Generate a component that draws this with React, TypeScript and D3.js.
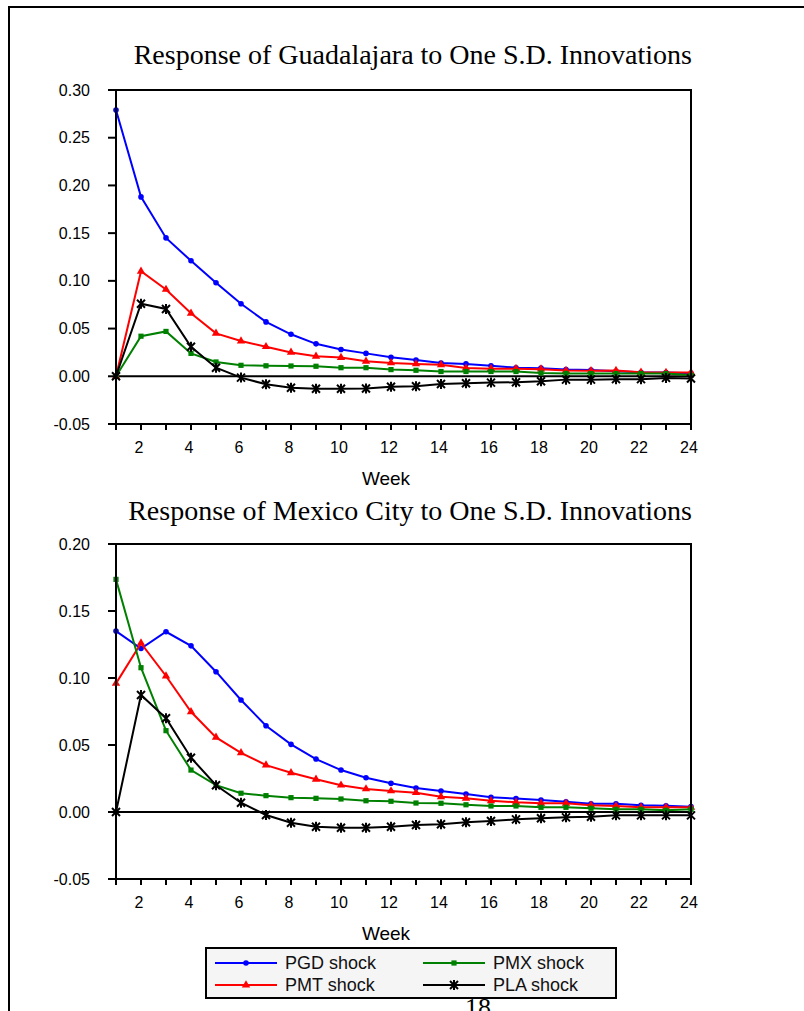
import React from "react";
import * as d3 from "d3";

// weeks after the shock
const weeks = [1, 2, 3, 4, 5, 6, 7, 8, 9, 10, 11, 12, 13, 14, 15, 16, 17, 18, 19, 20, 21, 22, 23, 24];
const weekTicks = [2, 4, 6, 8, 10, 12, 14, 16, 18, 20, 22, 24];

// Guadalajara responses
const gdlPGD = [0.279, 0.188, 0.145, 0.121, 0.098, 0.076, 0.057, 0.044, 0.034, 0.028, 0.024, 0.02, 0.017, 0.014, 0.013, 0.011, 0.009, 0.0085, 0.007, 0.0066, 0.0052, 0.0042, 0.004, 0.0031];
const gdlPMT = [0.0, 0.11, 0.091, 0.066, 0.045, 0.037, 0.031, 0.025, 0.021, 0.0196, 0.0157, 0.014, 0.013, 0.012, 0.0087, 0.008, 0.008, 0.0075, 0.006, 0.0057, 0.006, 0.0042, 0.004, 0.004];
const gdlPMX = [0.0, 0.042, 0.047, 0.024, 0.015, 0.0115, 0.011, 0.0108, 0.0105, 0.009, 0.009, 0.007, 0.0063, 0.005, 0.005, 0.005, 0.005, 0.0035, 0.003, 0.0028, 0.0028, 0.0028, 0.0028, 0.001];
const gdlPLA = [0.0, 0.076, 0.0705, 0.031, 0.009, -0.0014, -0.0084, -0.012, -0.013, -0.013, -0.0128, -0.011, -0.0105, -0.008, -0.0073, -0.0066, -0.0063, -0.0052, -0.0035, -0.0035, -0.003, -0.003, -0.0017, -0.0024];
const gdlTicks = [-0.05, 0.0, 0.05, 0.1, 0.15, 0.2, 0.25, 0.3];

// Mexico City responses
const mexPGD = [0.135, 0.122, 0.1345, 0.124, 0.1047, 0.0836, 0.0644, 0.0505, 0.0395, 0.0313, 0.0256, 0.0214, 0.0179, 0.0157, 0.0134, 0.011, 0.01, 0.009, 0.0077, 0.0062, 0.0062, 0.005, 0.0047, 0.004];
const mexPMT = [0.096, 0.126, 0.1015, 0.0748, 0.0557, 0.0442, 0.035, 0.0293, 0.0244, 0.02, 0.0172, 0.0157, 0.0144, 0.0114, 0.0102, 0.0084, 0.0072, 0.0065, 0.0065, 0.005, 0.0045, 0.0035, 0.0035, 0.0035];
const mexPMX = [0.1736, 0.1077, 0.0607, 0.0313, 0.02, 0.014, 0.0122, 0.0107, 0.0102, 0.0097, 0.0084, 0.008, 0.0067, 0.0065, 0.0054, 0.0045, 0.0045, 0.0035, 0.0035, 0.0028, 0.002, 0.002, 0.0013, 0.002];
const mexPLA = [0.0, 0.0873, 0.07, 0.0405, 0.02, 0.0069, -0.0022, -0.008, -0.011, -0.0117, -0.0117, -0.011, -0.0097, -0.0092, -0.0077, -0.0067, -0.0055, -0.0047, -0.004, -0.0035, -0.0025, -0.0025, -0.0025, -0.0025];
const mexTicks = [-0.05, 0.0, 0.05, 0.1, 0.15, 0.2];

const shockNames = ["PGD shock", "PMT shock", "PMX shock", "PLA shock"];
const colors = ["#0000ff", "#ff0000", "#008000", "#000000"];
const markers = ["circle", "triangle", "square", "star"];

const LEFT = 116;
const RIGHT = 691;
const fmt = (t: number) => d3.format(".2f")(t).replace("\u2212", "-");

function Marker({ kind, x, y, color }) {
  if (kind === "circle") return <circle cx={x} cy={y} r={2.8} fill={color} />;
  if (kind === "triangle") {
    const p = d3.symbol().type(d3.symbolTriangle).size(30)();
    return <path d={p} transform={`translate(${x},${y})`} fill={color} />;
  }
  if (kind === "square") return <rect x={x - 2.6} y={y - 2.6} width={5.2} height={5.2} fill={color} />;
  const s = 4;
  return (
    <path
      d={`M${x - s},${y - s}L${x + s},${y + s}M${x - s},${y + s}L${x + s},${y - s}M${x},${y - s - 1}L${x},${y + s + 1}`}
      stroke={color}
      strokeWidth={2}
    />
  );
}

function Panel({ title, titleY, top, bottom, domain, ticks, series }) {
  const x = d3.scaleLinear().domain([1, 24]).range([LEFT, RIGHT]);
  const y = d3.scaleLinear().domain(domain).range([bottom, top]);
  const line = d3
    .line<number>()
    .x((d, i) => x(weeks[i]))
    .y((d) => y(d));

  return (
    <g>
      <text
        x={RIGHT + 1}
        y={titleY}
        textAnchor="end"
        fontFamily="'Liberation Serif', 'Times New Roman', serif"
        fontSize={28}
      >
        {title}
      </text>
      {/* zero line */}
      <line x1={LEFT} x2={RIGHT} y1={y(0)} y2={y(0)} stroke="#000" strokeWidth={2} />
      {series.map((vals, k) => (
        <g key={k}>
          <path d={line(vals)} fill="none" stroke={colors[k]} strokeWidth={2} />
          {vals.map((v, i) => (
            <Marker key={i} kind={markers[k]} x={x(weeks[i])} y={y(v)} color={colors[k]} />
          ))}
        </g>
      ))}
      <rect x={LEFT} y={top} width={RIGHT - LEFT} height={bottom - top} fill="none" stroke="#000" strokeWidth={2} />
      {ticks.map((t) => (
        <g key={t}>
          <line x1={LEFT - 8} x2={LEFT} y1={y(t)} y2={y(t)} stroke="#000" strokeWidth={2} />
          <text
            x={LEFT - 26}
            y={y(t)}
            dy="0.35em"
            textAnchor="end"
            fontFamily="'Liberation Sans', Arial, sans-serif"
            fontSize={16}
          >
            {fmt(t)}
          </text>
        </g>
      ))}
      {weeks.map((w) => (
        <line key={w} x1={x(w)} x2={x(w)} y1={bottom} y2={bottom + 6} stroke="#000" strokeWidth={2} />
      ))}
      {weekTicks.map((w) => (
        <text
          key={w}
          x={x(w) - 2}
          y={bottom + 23}
          dy="0.35em"
          textAnchor="middle"
          fontFamily="'Liberation Sans', Arial, sans-serif"
          fontSize={16}
        >
          {w}
        </text>
      ))}
      <text
        x={386}
        y={bottom + 54}
        dy="0.35em"
        textAnchor="middle"
        fontFamily="'Liberation Sans', Arial, sans-serif"
        fontSize={19}
      >
        Week
      </text>
    </g>
  );
}

export default function App() {
  const legendRows = [
    [0, 2],
    [1, 3],
  ];
  return (
    <svg width={804} height={1011} style={{ position: "absolute", left: 0, top: 0, background: "#fff" }}>
      <path d="M9,1011V7H804" fill="none" stroke="#000" strokeWidth={2} />
      <Panel
        title="Response of Guadalajara to One S.D. Innovations"
        titleY={64}
        top={90}
        bottom={424}
        domain={[-0.05, 0.3]}
        ticks={gdlTicks}
        series={[gdlPGD, gdlPMT, gdlPMX, gdlPLA]}
      />
      <Panel
        title="Response of Mexico City to One S.D. Innovations"
        titleY={520}
        top={544}
        bottom={879}
        domain={[-0.05, 0.2]}
        ticks={mexTicks}
        series={[mexPGD, mexPMT, mexPMX, mexPLA]}
      />
      <text x={478} y={1016} textAnchor="middle" fontFamily="'Liberation Serif', serif" fontSize={26}>
        18
      </text>
      <rect x={206} y={948} width={410} height={50} fill="#f5f5f5" stroke="#000" strokeWidth={2} />
      {legendRows.map((row, r) =>
        row.map((k, c) => {
          const lx = c === 0 ? 215 : 423;
          const ly = r === 0 ? 963 : 985;
          return (
            <g key={k}>
              <line x1={lx} x2={lx + 62} y1={ly} y2={ly} stroke={colors[k]} strokeWidth={2} />
              <Marker kind={markers[k]} x={lx + 31} y={ly} color={colors[k]} />
              <text
                x={lx + 70}
                y={ly}
                dy="0.35em"
                fontFamily="'Liberation Sans', Arial, sans-serif"
                fontSize={18}
                fill="#111"
              >
                {shockNames[k]}
              </text>
            </g>
          );
        })
      )}
    </svg>
  );
}
